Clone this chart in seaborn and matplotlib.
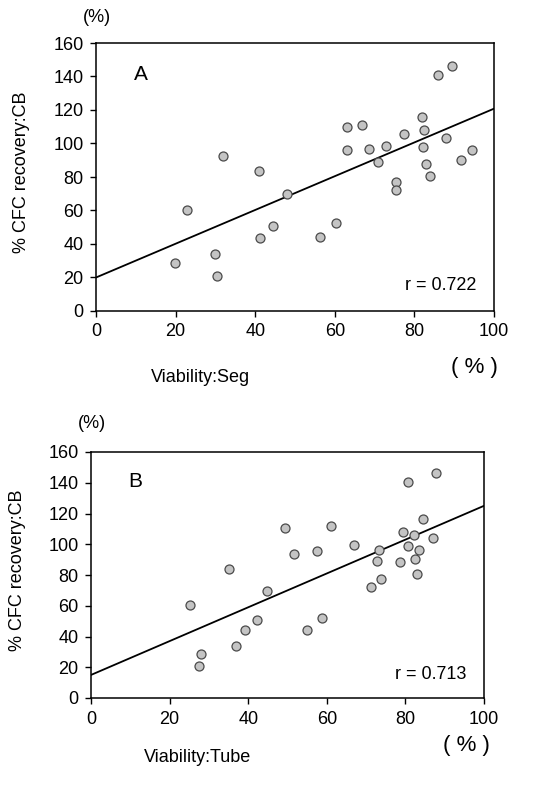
import matplotlib
matplotlib.use("Agg")
import matplotlib.pyplot as plt
import seaborn as sns
import pandas as pd
import numpy as np

# ---- data ----
seg_x = [31.8, 41.0, 22.8, 48.1, 44.4, 41.2, 29.9, 19.8, 30.3,
         89.5, 85.9, 82.0, 63.1, 66.8, 77.5, 82.4, 87.9, 63.1, 68.6,
         72.8, 82.1, 70.8, 94.4, 91.7, 82.8, 83.9, 75.4, 75.4, 60.3, 56.3]
seg_y = [92.8, 83.7, 60.2, 69.9, 50.8, 43.8, 34.1, 28.5, 20.9,
         146.0, 140.6, 115.9, 109.8, 111.0, 105.4, 108.0, 103.4, 96.4, 97.0,
         98.8, 98.0, 88.8, 96.0, 90.4, 88.0, 80.3, 77.3, 72.3, 52.6, 44.2]

tube_x = [25.2, 35.2, 28.0, 27.5, 36.9, 39.2, 42.3, 44.8,
          87.7, 80.7, 84.6, 49.4, 61.1, 79.3, 82.2, 86.9, 67.0, 51.6, 57.4,
          73.2, 80.7, 83.5, 72.9, 78.7, 82.5, 82.9, 73.9, 71.2, 58.8, 55.0]
tube_y = [60.8, 84.1, 28.6, 21.0, 33.9, 44.1, 51.0, 69.6,
          146.5, 140.4, 116.7, 110.8, 111.8, 108.2, 106.3, 104.1, 99.6, 93.9, 95.5,
          96.5, 98.6, 96.1, 89.4, 88.4, 90.4, 80.6, 77.1, 72.0, 52.2, 44.5]

fit_x = [0, 100]
fit_seg_y = [20.0, 120.8]
fit_tube_y = [15.0, 125.0]

x_ticks = [0, 20, 40, 60, 80, 100]
y_ticks = [0, 20, 40, 60, 80, 100, 120, 140, 160]
r_seg = "r = 0.722"
r_tube = "r = 0.713"

sns.set_style("ticks")
plt.rcParams['font.family'] = ['Liberation Sans', 'DejaVu Sans']
plt.rcParams['text.color'] = 'black'
plt.rcParams['xtick.color'] = 'black'
plt.rcParams['ytick.color'] = 'black'
plt.rcParams['axes.edgecolor'] = 'black'

W, H = 539, 796
fig = plt.figure(figsize=(W / 100, H / 100), dpi=100)


def frac_rect(l, t, r, b):
    return [l / W, 1 - b / H, (r - l) / W, (b - t) / H]


panels = [
    dict(rect=frac_rect(96, 43, 494, 311), x=seg_x, y=seg_y, fy=fit_seg_y,
         letter="A", r=r_seg, xlabel="Viability:Seg",
         pct_top=(97, 18), ylab=(22, 172), xlab=(200, 378), pct_big=(474, 367)),
    dict(rect=frac_rect(91, 452, 484, 698), x=tube_x, y=tube_y, fy=fit_tube_y,
         letter="B", r=r_tube, xlabel="Viability:Tube",
         pct_top=(92, 424), ylab=(18, 570), xlab=(198, 757), pct_big=(466, 746)),
]

fs = 13
for p in panels:
    ax = fig.add_axes(p["rect"])
    df = pd.DataFrame({"x": p["x"], "y": p["y"]})
    sns.lineplot(x=fit_x, y=p["fy"], ax=ax, color="black", linewidth=1.3)
    sns.scatterplot(data=df, x="x", y="y", ax=ax, s=42, color="#c4c4c4",
                    edgecolor="#4a4a4a", linewidth=0.9, zorder=3)
    ax.set_xlim(0, 100)
    ax.set_ylim(0, 160)
    ax.set_xticks(x_ticks)
    ax.set_yticks(y_ticks)
    ax.tick_params(labelsize=fs, length=4, width=1.0, direction="out", pad=5)
    ax.set_xlabel("")
    ax.set_ylabel("")
    for s in ax.spines.values():
        s.set_visible(True)
        s.set_linewidth(1.1)
    ax.text(9.5, 141, p["letter"], fontsize=15, ha="left", va="center")
    ax.text(95.5, 15, p["r"], fontsize=fs, ha="right", va="center")
    fig.text(p["pct_top"][0] / W, 1 - p["pct_top"][1] / H, "(%)", fontsize=fs,
             ha="center", va="center")
    fig.text(p["ylab"][0] / W, 1 - p["ylab"][1] / H, "% CFC recovery:CB",
             fontsize=fs, rotation=90, ha="center", va="center")
    fig.text(p["xlab"][0] / W, 1 - p["xlab"][1] / H, p["xlabel"], fontsize=fs,
             ha="center", va="center")
    fig.text(p["pct_big"][0] / W, 1 - p["pct_big"][1] / H, "( % )", fontsize=16,
             ha="center", va="center")

fig.savefig("out.png", dpi=100)
